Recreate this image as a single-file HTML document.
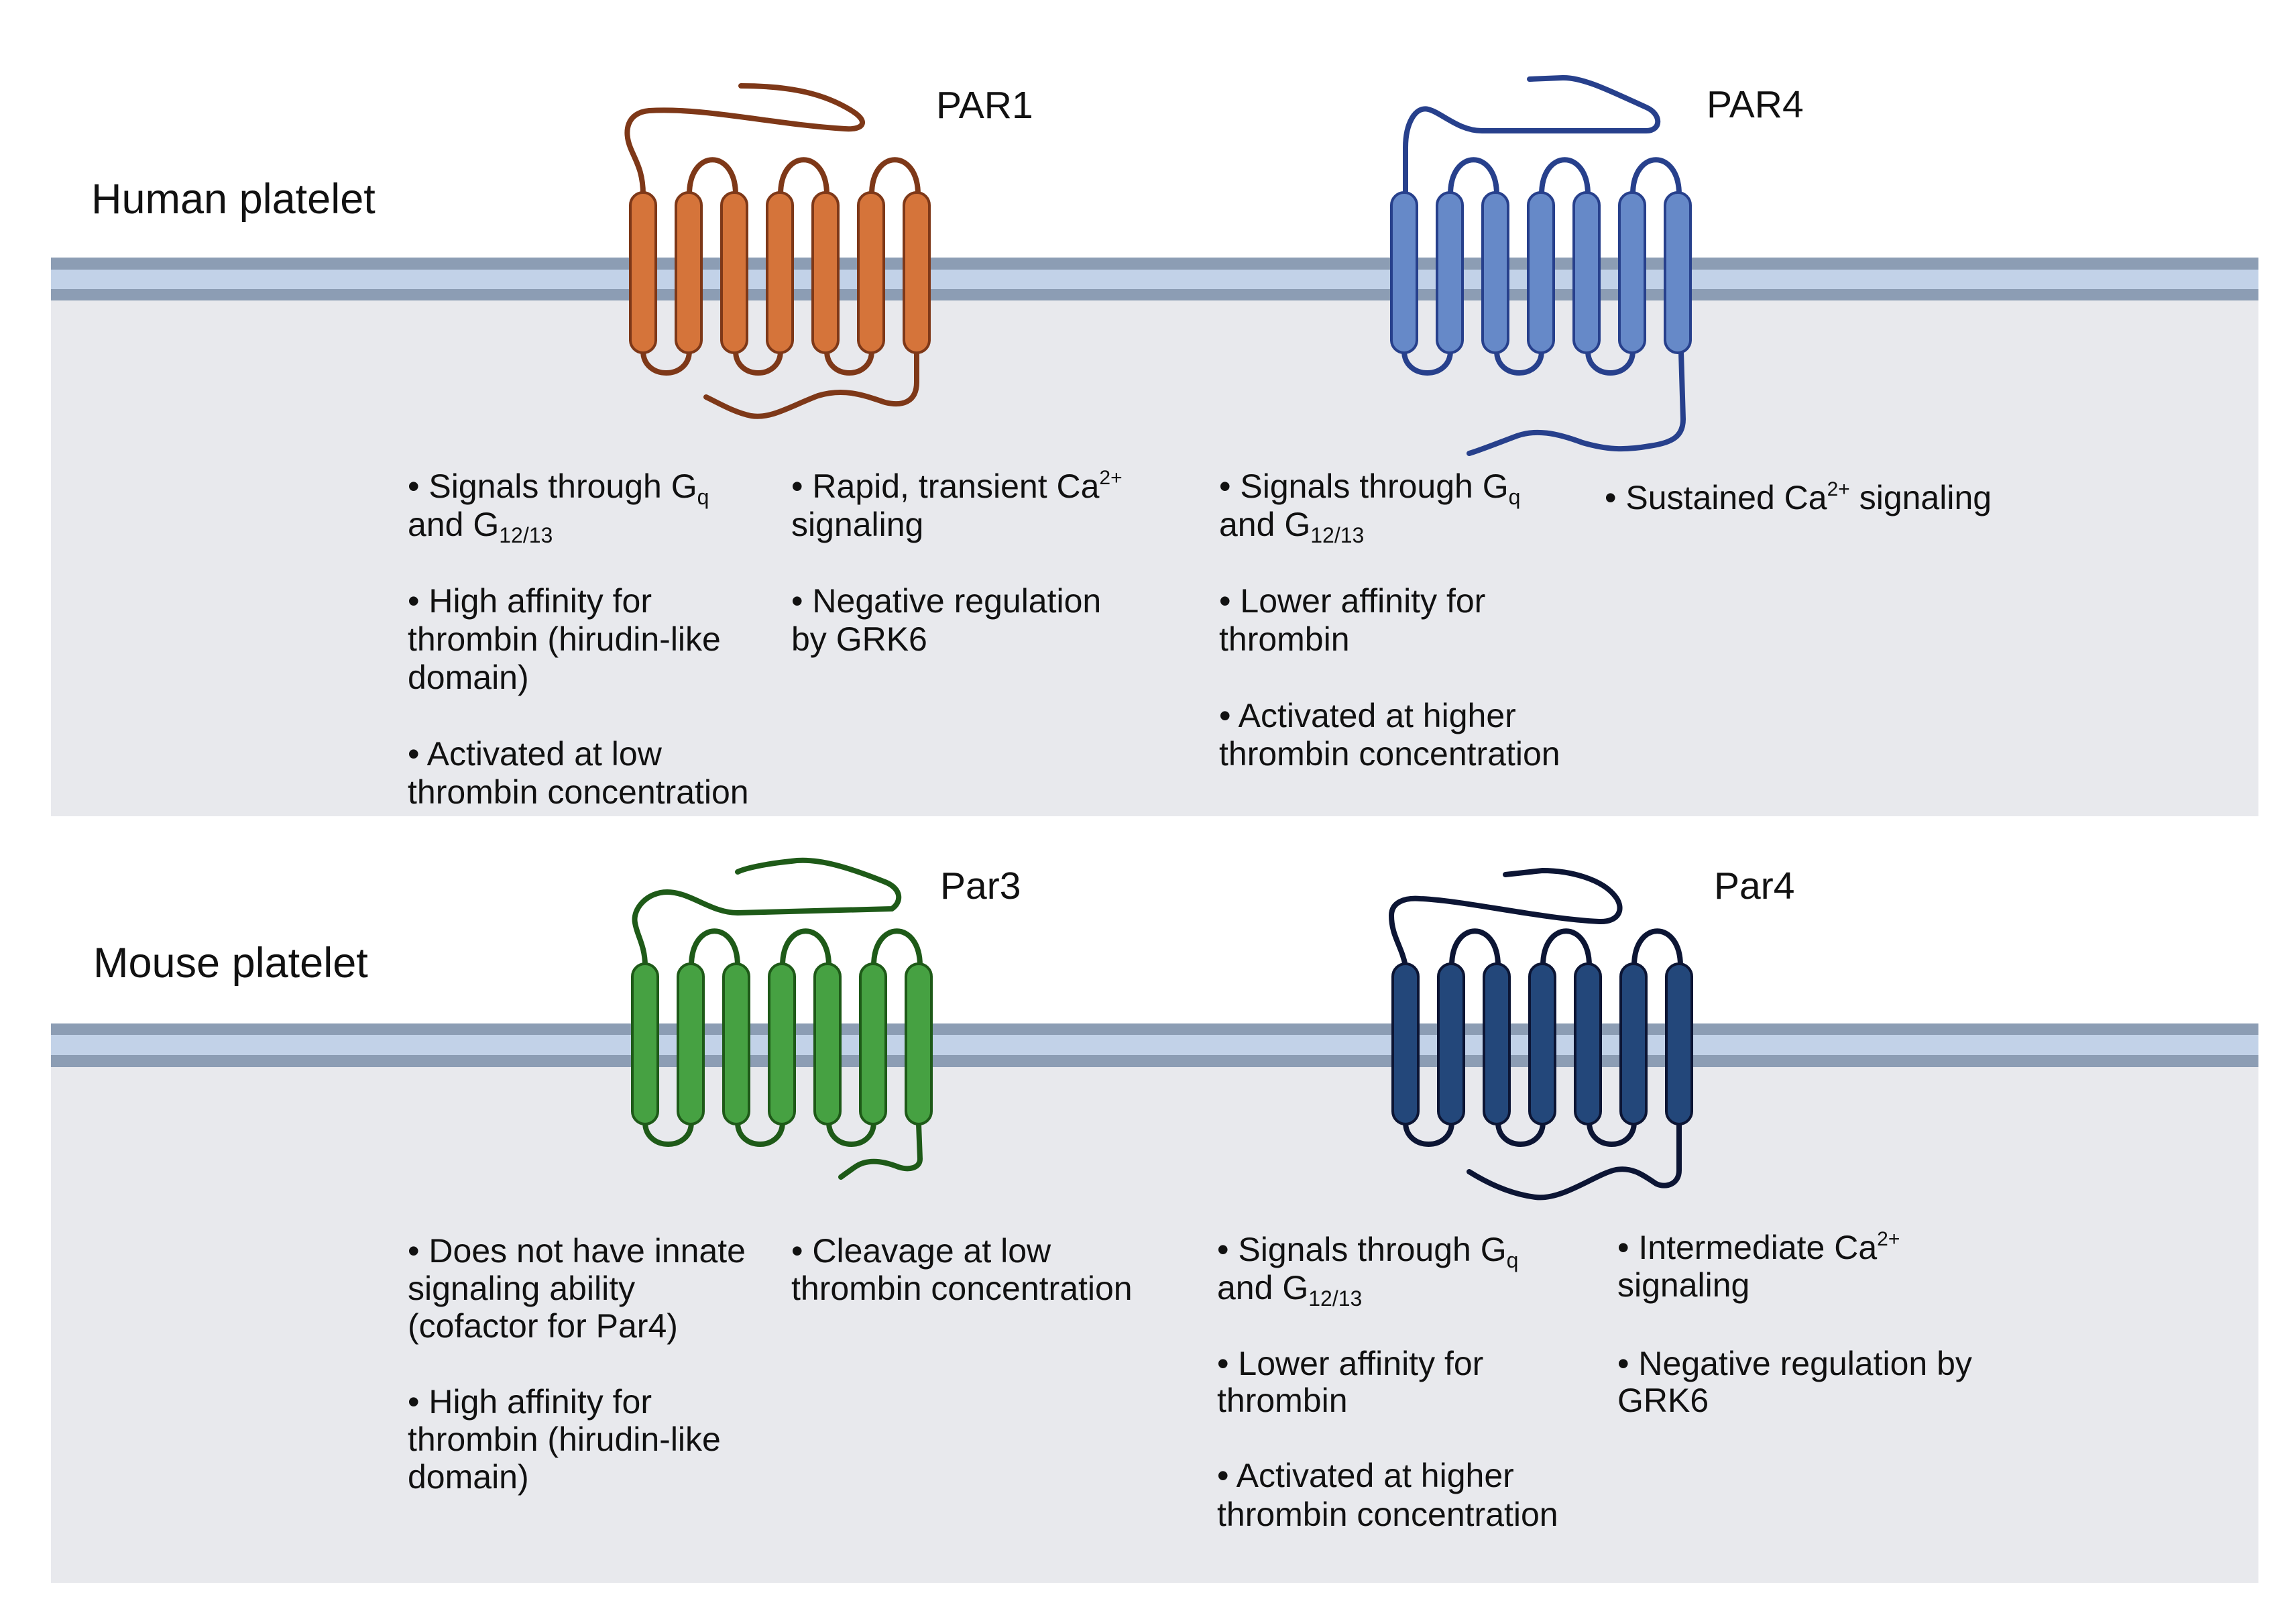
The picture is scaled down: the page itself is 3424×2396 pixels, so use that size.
<!DOCTYPE html>
<html><head><meta charset="utf-8"><style>
html,body{margin:0;padding:0;background:#fff;}
svg{display:block;}
text{font-family:"Liberation Sans",sans-serif;fill:#111;}
.b{font-size:50px;}
.h{font-size:63px;}
.p{font-size:57px;}
</style></head><body>
<svg width="3424" height="2396" viewBox="0 0 3424 2396" xmlns="http://www.w3.org/2000/svg">
<defs>
<g id="tm">
 <g fill="none" stroke-width="8" stroke-linecap="round">
  <path d="M1028,290 C1028,221 1097,221 1097,290"/>
  <path d="M1164,290 C1164,221 1233,221 1233,290"/>
  <path d="M1300,290 C1300,221 1369,221 1369,290"/>
  <path d="M959,523 C959,567 1028,567 1028,523"/>
  <path d="M1097,523 C1097,567 1164,567 1164,523"/>
  <path d="M1233,523 C1233,567 1300,567 1300,523"/>
 </g>
 <g stroke-width="4">
  <rect x="940" y="287" width="38" height="239" rx="19"/>
  <rect x="1008" y="287" width="38" height="239" rx="19"/>
  <rect x="1076" y="287" width="38" height="239" rx="19"/>
  <rect x="1144" y="287" width="38" height="239" rx="19"/>
  <rect x="1212" y="287" width="38" height="239" rx="19"/>
  <rect x="1280" y="287" width="38" height="239" rx="19"/>
  <rect x="1348" y="287" width="38" height="239" rx="19"/>
 </g>
</g>
</defs>

<rect x="76" y="448" width="3292" height="769" fill="#e8e9ed"/>
<rect x="76" y="384" width="3292" height="64" fill="#8c9db4"/>
<rect x="76" y="402" width="3292" height="29" fill="#c2d2e8"/>
<rect x="76" y="1591" width="3292" height="769" fill="#e8e9ed"/>
<rect x="76" y="1526" width="3292" height="65" fill="#8c9db4"/>
<rect x="76" y="1543" width="3292" height="30" fill="#c2d2e8"/>

<g fill="none" stroke="#7e3818" stroke-width="8" stroke-linecap="round">
 <path d="M959,290 C959,255 948,240 940,220 C930,195 935,168 968,165 C1050,160 1150,185 1260,192 C1290,194 1295,180 1270,165 C1230,140 1180,128 1105,128"/>
 <path d="M1367,526 L1367,570 C1367,600 1345,606 1320,600 C1290,590 1260,578 1220,590 C1180,605 1150,625 1120,620 C1095,615 1070,600 1053,592"/>
</g>
<use href="#tm" fill="#d5743a" stroke="#7e3818"/>

<g fill="none" stroke="#27408c" stroke-width="8" stroke-linecap="round">
 <path d="M2096,290 L2096,220 C2096,185 2110,158 2130,163 C2150,168 2175,195 2210,195 L2455,195 C2478,195 2478,170 2455,160 C2400,135 2360,115 2330,116 L2281,118"/>
 <path d="M2507,525 L2510,625 C2510,650 2495,660 2460,665 C2420,672 2395,670 2360,660 C2320,645 2290,640 2262,650 C2230,662 2205,672 2191,676"/>
</g>
<use href="#tm" transform="translate(1135,0)" fill="#6689c8" stroke="#27408c"/>

<g fill="none" stroke="#1e5a18" stroke-width="8" stroke-linecap="round">
 <path d="M962,1440 C962,1410 950,1395 947,1376 C943,1355 965,1330 995,1330 C1030,1330 1060,1361 1100,1361 L1330,1355 C1345,1345 1345,1325 1320,1315 C1270,1295 1220,1278 1180,1284 C1140,1288 1110,1295 1100,1300"/>
 <path d="M1370,1676 L1372,1728 C1372,1742 1355,1745 1340,1740 C1315,1730 1292,1728 1275,1740 C1265,1747 1258,1752 1254,1755"/>
</g>
<use href="#tm" transform="translate(3,1150)" fill="#46a142" stroke="#1e5a18"/>

<g fill="none" stroke="#0c1534" stroke-width="8" stroke-linecap="round">
 <path d="M2096,1440 C2090,1410 2075,1395 2075,1365 C2075,1345 2095,1338 2118,1340 C2180,1342 2300,1370 2385,1374 C2415,1375 2422,1355 2410,1338 C2390,1310 2340,1298 2300,1298 L2245,1304"/>
 <path d="M2504,1676 L2504,1745 C2504,1765 2485,1772 2470,1765 C2450,1752 2435,1740 2410,1744 C2380,1750 2330,1790 2290,1785 C2250,1780 2215,1762 2191,1747"/>
</g>
<use href="#tm" transform="translate(1137,1150)" fill="#23477a" stroke="#0c1534"/>

<text class="h" x="136" y="318">Human platelet</text>
<text class="h" x="139" y="1457">Mouse platelet</text>
<text class="p" x="1396" y="176">PAR1</text>
<text class="p" x="2545" y="175">PAR4</text>
<text class="p" x="1402" y="1340">Par3</text>
<text class="p" x="2556" y="1340">Par4</text>

<g class="b">
<text class="b" x="608" y="742">• Signals through G<tspan font-size="32" dy="10">q</tspan></text>
<text class="b" x="608" y="799">and G<tspan font-size="32" dy="10">12/13</tspan></text>
<text class="b" x="608" y="913">• High affinity for</text>
<text class="b" x="608" y="970">thrombin (hirudin-like</text>
<text class="b" x="608" y="1027">domain)</text>
<text class="b" x="608" y="1141">• Activated at low</text>
<text class="b" x="608" y="1198">thrombin concentration</text>

<text class="b" x="1180" y="742">• Rapid, transient Ca<tspan font-size="30" dy="-20">2+</tspan></text>
<text class="b" x="1180" y="799">signaling</text>
<text class="b" x="1180" y="913">• Negative regulation</text>
<text class="b" x="1180" y="970">by GRK6</text>

<text class="b" x="1818" y="742">• Signals through G<tspan font-size="32" dy="10">q</tspan></text>
<text class="b" x="1818" y="799">and G<tspan font-size="32" dy="10">12/13</tspan></text>
<text class="b" x="1818" y="913">• Lower affinity for</text>
<text class="b" x="1818" y="970">thrombin</text>
<text class="b" x="1818" y="1084">• Activated at higher</text>
<text class="b" x="1818" y="1141">thrombin concentration</text>

<text class="b" x="2393" y="759">• Sustained Ca<tspan font-size="30" dy="-20">2+</tspan><tspan dy="20"> signaling</tspan></text>

<text class="b" x="608" y="1882">• Does not have innate</text>
<text class="b" x="608" y="1938">signaling ability</text>
<text class="b" x="608" y="1994">(cofactor for Par4)</text>
<text class="b" x="608" y="2107">• High affinity for</text>
<text class="b" x="608" y="2163">thrombin (hirudin-like</text>
<text class="b" x="608" y="2219">domain)</text>

<text class="b" x="1180" y="1882">• Cleavage at low</text>
<text class="b" x="1180" y="1938">thrombin concentration</text>

<text class="b" x="1815" y="1880">• Signals through G<tspan font-size="32" dy="10">q</tspan></text>
<text class="b" x="1815" y="1937">and G<tspan font-size="32" dy="10">12/13</tspan></text>
<text class="b" x="1815" y="2050">• Lower affinity for</text>
<text class="b" x="1815" y="2105">thrombin</text>
<text class="b" x="1815" y="2217">• Activated at higher</text>
<text class="b" x="1815" y="2275">thrombin concentration</text>

<text class="b" x="2412" y="1877">• Intermediate Ca<tspan font-size="30" dy="-20">2+</tspan></text>
<text class="b" x="2412" y="1933">signaling</text>
<text class="b" x="2412" y="2050">• Negative regulation by</text>
<text class="b" x="2412" y="2105">GRK6</text>
</g>
</svg>
</body></html>
